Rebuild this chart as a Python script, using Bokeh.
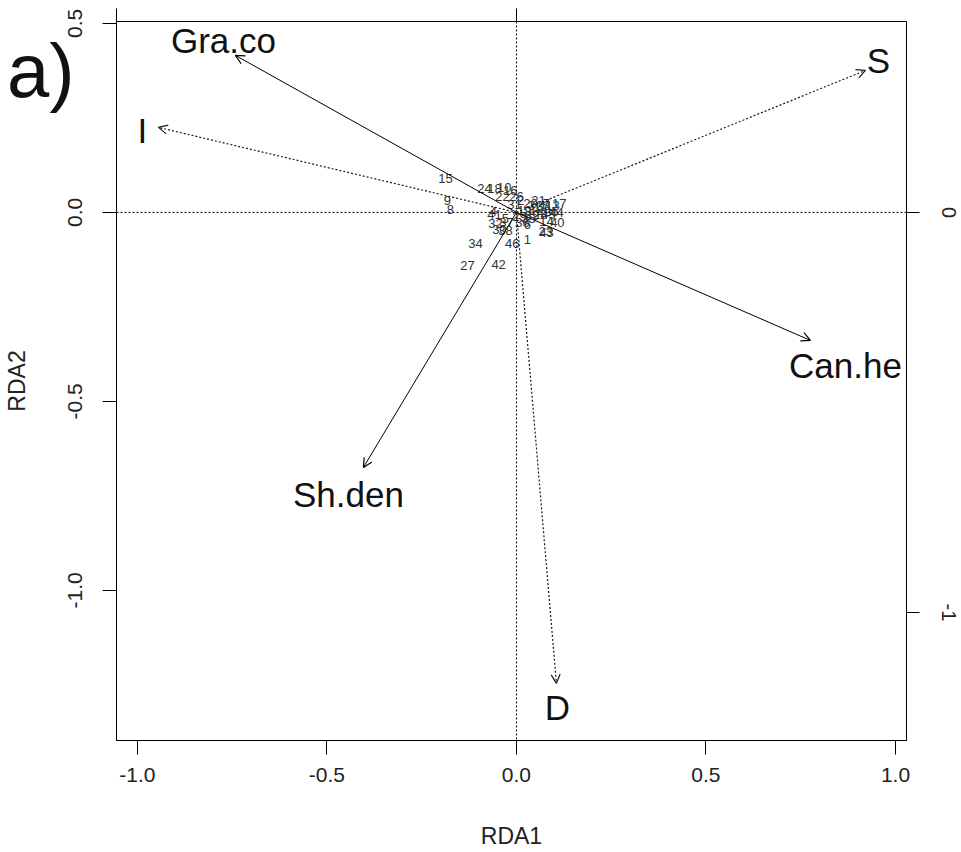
from bokeh.plotting import figure
from bokeh.models import (Range1d, LinearAxis, FixedTicker, Arrow, OpenHead,
                          Span, ColumnDataSource)
from bokeh.core.properties import value
from bokeh.embed import file_html
from bokeh.resources import INLINE

FONT = "Liberation Sans"

# Site scores (RDA1, RDA2)
site_ids = [str(i) for i in range(1, 47)]
site_x = [0.029, 0.011, 0.040, -0.061, -0.029, 0.029, 0.079, -0.174, -0.182, -0.032,
          0.063, 0.053, 0.095, 0.079, -0.187, -0.016, 0.113, -0.058, 0.021, 0.037,
          0.058, -0.037, 0.077, -0.084, 0.092, 0.000, -0.129, 0.063, 0.008, -0.045,
          -0.005, -0.055, 0.071, -0.108, 0.032, 0.016, -0.026, -0.029, 0.042, 0.108,
          -0.058, -0.047, 0.079, 0.106, 0.084, -0.011]
site_y = [-0.071, 0.032, 0.019, 0.003, -0.016, -0.032, 0.024, 0.008, 0.032, 0.066,
          0.016, 0.005, 0.019, -0.024, 0.090, 0.058, 0.024, 0.063, 0.005, 0.024,
          0.032, 0.042, -0.050, 0.063, 0.003, 0.042, -0.140, -0.005, -0.011, -0.045,
          0.021, -0.029, 0.019, -0.082, -0.016, -0.026, -0.026, -0.048, -0.008, -0.026,
          -0.005, -0.138, -0.053, 0.000, -0.005, -0.082]

# Environmental vectors (biplot scores, top/right axis units)
env_names = ["Gra.co", "I", "S", "Can.he", "Sh.den", "D"]
env_x = [-0.7025, -0.895, 0.8725, 0.735, -0.3825, 0.100]
env_y = [0.3925, 0.2125, 0.355, -0.320, -0.6375, -1.1775]
env_dotted = [False, True, True, False, False, True]
env_lab_x = [-0.7325, -0.935, 0.905, 0.8225, -0.420, 0.1025]
env_lab_y = [0.430, 0.205, 0.380, -0.3825, -0.705, -1.2375]

# Axis ticks
x_ticks = [-1.0, -0.5, 0.0, 0.5, 1.0]
x_tick_labels = ["-1.0", "-0.5", "0.0", "0.5", "1.0"]
y_ticks = [-1.0, -0.5, 0.0, 0.5]
y_tick_labels = ["-1.0", "-0.5", "0.0", "0.5"]
sp_x_ticks = [-1, 0]
sp_y_ticks = [-1, 0]
sp_y_tick_labels = ["-1", "0"]

# Panel tag and its height on the RDA2 scale
panel_tag = "a)"
panel_tag_y = 0.376

# Plot limits (site scale and biplot scale)
xlim = (-1.055, 1.029)
ylim = (-1.397, 0.505)
sp_xlim = (-1.0, 0.975)
sp_ylim = (-1.32, 0.4775)

p = figure(width=961, height=852, output_backend="svg", toolbar_location=None,
           x_range=Range1d(*xlim), y_range=Range1d(*ylim),
           min_border_left=116, min_border_right=55, min_border_top=21,
           min_border_bottom=112)
p.extra_x_ranges = {"sp": Range1d(*sp_xlim)}
p.extra_y_ranges = {"sp": Range1d(*sp_ylim)}
p.grid.visible = False
p.outline_line_color = "black"
p.outline_line_width = 1
p.background_fill_color = "white"
p.border_fill_color = "white"

def style_axis(ax, font_size="21px"):
    ax.major_tick_out = 14
    ax.major_tick_in = 0
    ax.minor_tick_out = 0
    ax.minor_tick_in = 0
    ax.axis_line_color = "black"
    ax.major_tick_line_color = "black"
    ax.major_label_text_font = FONT
    ax.major_label_text_font_size = font_size
    ax.major_label_text_color = "#222222"
    ax.axis_label_text_font = FONT
    ax.axis_label_text_font_size = "23px"
    ax.axis_label_text_font_style = "normal"
    ax.axis_label_text_color = "#222222"

xa = p.xaxis[0]
xa.ticker = FixedTicker(ticks=x_ticks)
xa.major_label_overrides = dict(zip(x_ticks, x_tick_labels))
xa.axis_label = "RDA1"
style_axis(xa)
xa.major_label_standoff = 13
xa.axis_label_standoff = 38

ya = p.yaxis[0]
ya.ticker = FixedTicker(ticks=y_ticks)
ya.major_label_overrides = dict(zip(y_ticks, y_tick_labels))
ya.major_label_orientation = "vertical"
ya.axis_label = "RDA2"
style_axis(ya)
ya.major_label_standoff = 20
ya.axis_label_standoff = 36

# Outer left axis carrying only the panel tag
tag_axis = LinearAxis(ticker=FixedTicker(ticks=[panel_tag_y]),
                      major_label_overrides={panel_tag_y: panel_tag})
style_axis(tag_axis, "76px")
tag_axis.axis_line_color = None
tag_axis.major_tick_line_color = None
tag_axis.major_tick_out = 0
tag_axis.major_label_standoff = -74
tag_axis.major_label_text_color = "#111111"
p.add_layout(tag_axis, "left")

top = LinearAxis(x_range_name="sp", ticker=FixedTicker(ticks=sp_x_ticks))
style_axis(top, "1px")
top.major_tick_out = 13
top.major_label_standoff = 0
top.major_label_text_alpha = 0
p.add_layout(top, "above")

right = LinearAxis(y_range_name="sp", ticker=FixedTicker(ticks=sp_y_ticks))
right.major_label_overrides = dict(zip(sp_y_ticks, sp_y_tick_labels))
style_axis(right, "20px")
right.major_tick_out = 13
right.major_label_standoff = 22
right.major_label_orientation = "vertical"
p.add_layout(right, "right")

# Dotted reference lines through the origin
for dim, loc in (("width", 0), ("height", 0)):
    p.add_layout(Span(location=loc, dimension=dim, line_color="black",
                      line_width=1, line_dash="2 2"))

# Convert biplot scores to site-scale coordinates
kx = (xlim[1] - xlim[0]) / (sp_xlim[1] - sp_xlim[0])
ky = (ylim[1] - ylim[0]) / (sp_ylim[1] - sp_ylim[0])

# Site labels
p.text(x=site_x, y=site_y, text=site_ids, text_font=value(FONT),
       text_font_size="13px", text_align="center", text_baseline="middle",
       text_color="#333333")

# Environmental arrows
for dotted in (False, True):
    idx = [i for i, d in enumerate(env_dotted) if d == dotted]
    src = ColumnDataSource(dict(
        x0=[0.0] * len(idx), y0=[0.0] * len(idx),
        x1=[env_x[i] * kx for i in idx], y1=[env_y[i] * ky for i in idx]))
    color = "#1a1a1a" if dotted else "black"
    head = OpenHead(size=9, line_width=1.2, line_color=color)
    p.add_layout(Arrow(end=head, x_start="x0", y_start="y0", x_end="x1", y_end="y1",
                       source=src, line_color=color, line_width=1.2 if dotted else 1,
                       line_dash="2 2" if dotted else "solid"))

p.text(x=[v * kx for v in env_lab_x], y=[v * ky for v in env_lab_y], text=env_names,
       text_font=value(FONT), text_font_size="35px", text_align="center",
       text_baseline="middle", text_color="#111111")

open("out.html", "w").write(file_html(p, INLINE))
